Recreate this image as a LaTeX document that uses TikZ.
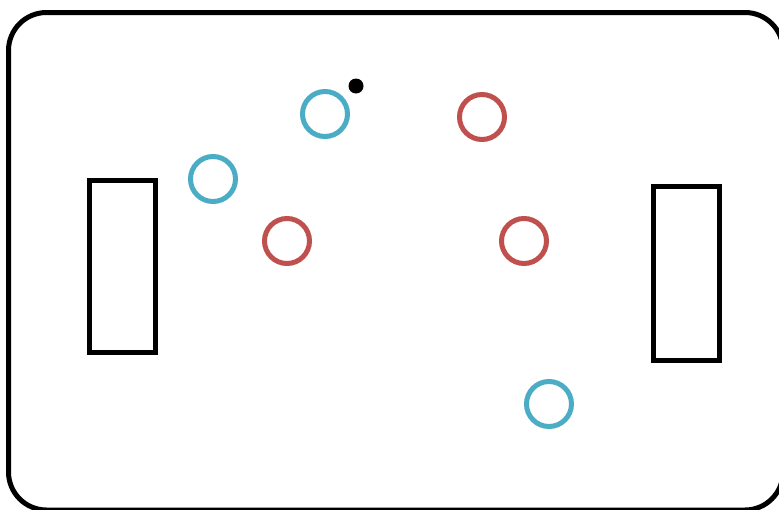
\documentclass[tikz,border=0pt]{standalone}
\definecolor{cblue}{HTML}{4BACC6}
\definecolor{cred}{HTML}{C0504D}
\begin{document}
\begin{tikzpicture}[x=1pt,y=-1pt,
  frame/.style={draw=black,line width=5pt,rounded corners=38pt},
  goal/.style={draw=black,line width=5pt},
  bluep/.style={circle,draw=cblue,line width=5pt,minimum size=45pt,inner sep=0pt},
  redp/.style={circle,draw=cred,line width=5pt,minimum size=45pt,inner sep=0pt},
  ball/.style={circle,fill=black,minimum size=15pt,inner sep=0pt}]
\useasboundingbox (0,0) rectangle (779,509);
\draw[frame] (8.5,12.5) rectangle (783,510);
\draw[goal] (89.5,180.5) rectangle (155,352);
\draw[goal] (653,186) rectangle (719,360);
\node[bluep] (b1) at (325,114) {};
\node[bluep] (b2) at (213,179) {};
\node[bluep] (b3) at (549,404) {};
\node[redp] (r1) at (482,117) {};
\node[redp] (r2) at (287,241) {};
\node[redp] (r3) at (524,241) {};
\node[ball] (ball) at (356,86) {};
\end{tikzpicture}
\end{document}
